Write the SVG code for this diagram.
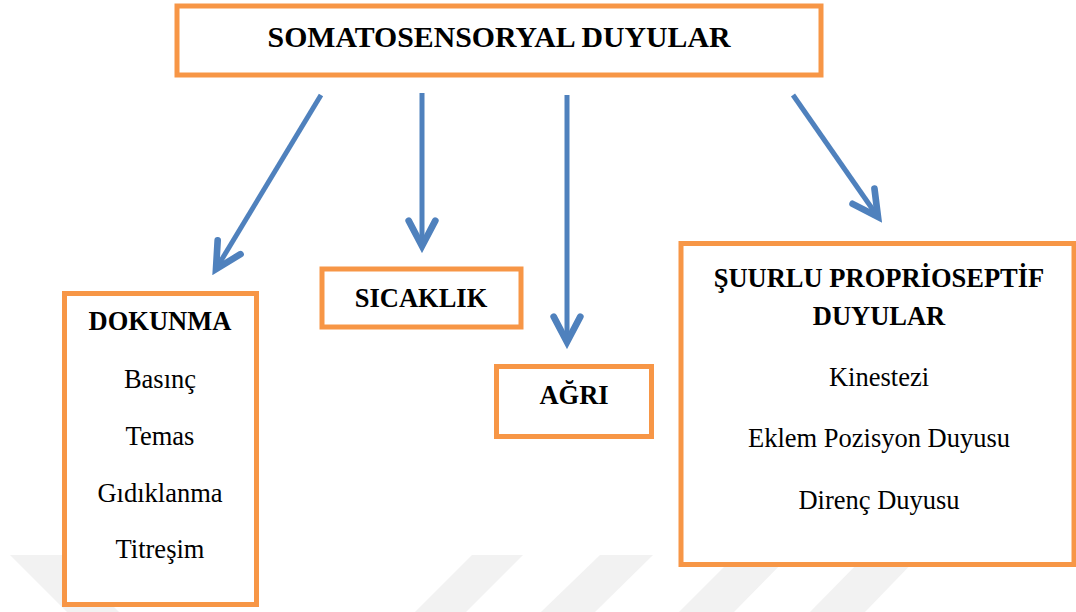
<svg xmlns="http://www.w3.org/2000/svg" width="1076" height="612" viewBox="0 0 1076 612">
<defs>
<style>
.box{fill:#fff;stroke:#F79646;stroke-width:5}
.t{font-family:"Liberation Serif","Times New Roman",serif;font-size:26.5px;fill:#000;text-anchor:middle}
.b{font-weight:bold}
.conn{stroke:#4F81BD;stroke-width:5;fill:none;marker-end:url(#ah)}
.wm{fill:#f2f2f2}
</style>
<marker id="ah" markerUnits="userSpaceOnUse" markerWidth="40" markerHeight="40" viewBox="-25 -15 30 30" refX="0" refY="0" orient="auto">
<path d="M-19,-10 L0,0 L-19,10" fill="none" stroke="#4F81BD" stroke-width="5" stroke-linejoin="miter" stroke-linecap="round"/>
</marker>
</defs>
<rect width="1076" height="612" fill="#fff"/>
<g id="watermark">
<polygon class="wm" points="10,555 62,555 119,612 67,612"/>
<polygon class="wm" points="472,555 523,555 466,612 415,612"/>
<polygon class="wm" points="600,555 653,555 595,612 541,612"/>
<polygon class="wm" points="736,555 790,555 734,612 679,612"/>
<polygon class="wm" points="866,555 920,555 865,612 810,612"/>
</g>
<g id="connectors">
<line class="conn" x1="321" y1="95" x2="216" y2="269"/>
<line class="conn" x1="422" y1="93" x2="422" y2="246"/>
<line class="conn" x1="567" y1="95" x2="567" y2="342"/>
<line class="conn" x1="793" y1="95" x2="878" y2="217"/>
</g>
<g id="n-top">
<rect class="box" x="177" y="6" width="644" height="69" stroke-width="4"/>
<text class="t b" x="499" y="47" style="font-size:29.8px">SOMATOSENSORYAL DUYULAR</text>
</g>
<g id="n-dokunma">
<rect class="box" x="64.5" y="293.5" width="192" height="311"/>
<text class="t b" x="160" y="330">DOKUNMA</text>
<text class="t" x="160" y="388">Basınç</text>
<text class="t" x="160" y="445">Temas</text>
<text class="t" x="160" y="502">Gıdıklanma</text>
<text class="t" x="160" y="558">Titreşim</text>
</g>
<g id="n-sicaklik">
<rect class="box" x="322" y="269" width="199" height="58"/>
<text class="t b" x="421" y="307">SICAKLIK</text>
</g>
<g id="n-agri">
<rect class="box" x="496.5" y="366.5" width="155" height="70"/>
<text class="t b" x="574" y="404">AĞRI</text>
</g>
<g id="n-suurlu">
<rect class="box" x="681" y="243.5" width="393" height="321"/>
<text class="t b" x="879" y="287">ŞUURLU PROPRİOSEPTİF</text>
<text class="t b" x="879" y="325">DUYULAR</text>
<text class="t" x="879" y="386">Kinestezi</text>
<text class="t" x="879" y="447">Eklem Pozisyon Duyusu</text>
<text class="t" x="879" y="509">Direnç Duyusu</text>
</g>
</svg>
